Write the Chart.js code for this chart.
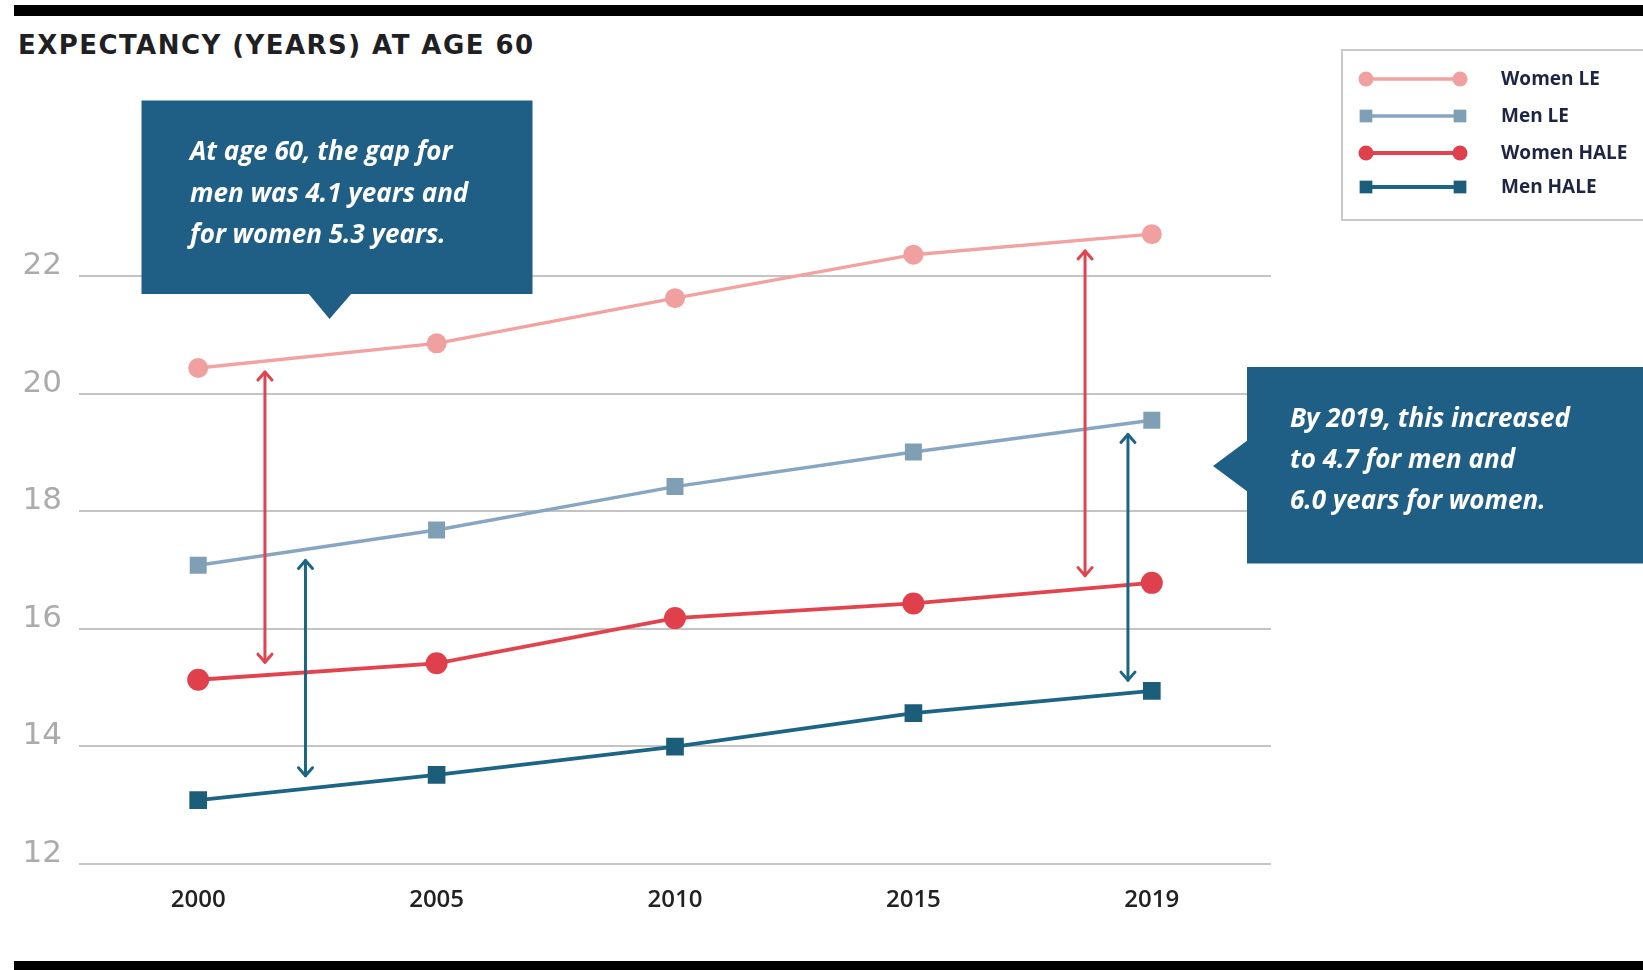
<!DOCTYPE html>
<html>
<head>
<meta charset="utf-8">
<script src="https://cdn.jsdelivr.net/npm/chart.js@4.4.0/dist/chart.umd.min.js"></script>
<style>
  html, body { margin: 0; padding: 0; background: #fff; }
  #wrap { position: relative; width: 1643px; height: 970px; overflow: hidden; }
  #box { position: absolute; left: 0; top: 0; width: 1643px; height: 970px; }
  .rule { position: absolute; left: 14px; right: 0; background: #000; }
  .rule.top { top: 5px; height: 11px; }
  .rule.bottom { top: 961px; height: 9px; }
  h1 {
    position: absolute; left: 18px; top: 30px; margin: 0;
    font: 700 26px "DejaVu Sans", sans-serif; line-height: 30px;
    letter-spacing: 1.45px; color: #1f1f24;
  }
</style>
</head>
<body>
<div id="wrap">
  <div class="rule top"></div>
  <h1>EXPECTANCY (YEARS) AT AGE 60</h1>
  <div id="box"><canvas id="chart"></canvas></div>
  <div class="rule bottom"></div>
</div>
<script>
const years = ['2000', '2005', '2010', '2015', '2019'];
const womenLE = [20.44, 20.86, 21.63, 22.37, 22.72];
const menLE = [17.08, 17.68, 18.42, 19.01, 19.55];
const womenHALE = [15.13, 15.41, 16.18, 16.43, 16.78];
const menHALE = [13.08, 13.51, 13.99, 14.56, 14.94];
const yTicks = [12, 14, 16, 18, 20, 22];

const seriesNames = ['Women LE', 'Men LE', 'Women HALE', 'Men HALE'];

const noteLeft = ['At age 60, the gap for', 'men was 4.1 years and', 'for women 5.3 years.'];
const noteRight = ['By 2019, this increased', 'to 4.7 for men and', '6.0 years for women.'];

const RED = '#e1434f';
const TEAL = '#1d6585';
const NOTE_BG = '#1f5f86';

// double-headed arrows between two series, placed at a fractional category index
const gapArrows = [
  { upper: 0, lower: 2, at: 0.28, color: RED },
  { upper: 1, lower: 3, at: 0.45, color: TEAL },
  { upper: 0, lower: 2, at: 3.72, color: RED },
  { upper: 1, lower: 3, at: 3.90, color: TEAL }
];

function valueAt(arr, idx) {
  const i = Math.min(Math.floor(idx), arr.length - 2);
  const f = idx - i;
  return arr[i] + (arr[i + 1] - arr[i]) * f;
}

function drawMarker(ctx, style, x, y, r, color) {
  ctx.fillStyle = color;
  ctx.beginPath();
  if (style === 'rect') {
    const s = r * Math.SQRT1_2;
    ctx.rect(x - s, y - s, 2 * s, 2 * s);
  } else {
    ctx.arc(x, y, r, 0, Math.PI * 2);
  }
  ctx.fill();
}

function drawHead(ctx, x, y, dir) {
  ctx.beginPath();
  ctx.moveTo(x - 7, y + dir * 8);
  ctx.lineTo(x, y);
  ctx.lineTo(x + 7, y + dir * 8);
  ctx.stroke();
}

const arrowPlugin = {
  id: 'gapArrows',
  afterDatasetsDraw(chart) {
    const { ctx, scales: { x, y } } = chart;
    const sets = chart.data.datasets;
    ctx.save();
    ctx.lineWidth = 3;
    ctx.lineCap = 'round';
    ctx.lineJoin = 'round';
    gapArrows.forEach(a => {
      const px = x.getPixelForValue(a.at);
      const top = y.getPixelForValue(valueAt(sets[a.upper].data, a.at)) + 11;
      const bot = y.getPixelForValue(valueAt(sets[a.lower].data, a.at)) - 13;
      ctx.strokeStyle = a.color;
      ctx.beginPath();
      ctx.moveTo(px, top);
      ctx.lineTo(px, bot);
      ctx.stroke();
      drawHead(ctx, px, top, 1);
      drawHead(ctx, px, bot, -1);
    });
    ctx.restore();
  }
};

function drawNote(ctx, lines, tx, ty, step) {
  ctx.fillStyle = '#fff';
  ctx.font = 'italic 700 26px "Open Sans"';
  ctx.textAlign = 'left';
  ctx.textBaseline = 'middle';
  lines.forEach((t, i) => ctx.fillText(t, tx, ty + i * step));
}

const notesPlugin = {
  id: 'notes',
  afterDraw(chart) {
    const ctx = chart.ctx;
    ctx.save();
    ctx.fillStyle = NOTE_BG;
    // left callout, pointer below
    ctx.fillRect(141.5, 100.5, 391, 193.5);
    ctx.beginPath();
    ctx.moveTo(308, 293);
    ctx.lineTo(352, 293);
    ctx.lineTo(329.5, 319);
    ctx.closePath();
    ctx.fill();
    drawNote(ctx, noteLeft, 190, 153, 41.5);
    // right callout, pointer to the left
    ctx.fillStyle = NOTE_BG;
    ctx.fillRect(1247, 367, 400, 196.5);
    ctx.beginPath();
    ctx.moveTo(1248, 440);
    ctx.lineTo(1213, 466);
    ctx.lineTo(1248, 492);
    ctx.closePath();
    ctx.fill();
    drawNote(ctx, noteRight, 1290, 419.5, 41);
    ctx.restore();
  }
};

const legendPlugin = {
  id: 'boxLegend',
  afterDraw(chart) {
    const ctx = chart.ctx;
    const rows = [79, 116, 153, 187];
    ctx.save();
    ctx.strokeStyle = '#c9c9c9';
    ctx.lineWidth = 2;
    ctx.strokeRect(1342, 50, 320, 170);
    chart.data.datasets.forEach((ds, i) => {
      const yy = rows[i];
      ctx.strokeStyle = ds.borderColor;
      ctx.lineWidth = ds.borderWidth;
      ctx.beginPath();
      ctx.moveTo(1364, yy);
      ctx.lineTo(1462, yy);
      ctx.stroke();
      const r = ds.pointStyle === 'rect' ? 9 : 7.5;
      drawMarker(ctx, ds.pointStyle, 1366, yy, r, ds.pointBackgroundColor);
      drawMarker(ctx, ds.pointStyle, 1460, yy, r, ds.pointBackgroundColor);
      ctx.fillStyle = '#1e2444';
      ctx.font = '700 19px "Open Sans"';
      ctx.textAlign = 'left';
      ctx.textBaseline = 'middle';
      ctx.fillText(ds.label, 1501, yy + 1);
    });
    ctx.restore();
  }
};

function series(label, data, line, point, style, r, w) {
  return {
    label, data,
    borderColor: line,
    backgroundColor: point,
    pointBackgroundColor: point,
    pointBorderColor: point,
    pointBorderWidth: 0,
    pointStyle: style,
    pointRadius: r,
    pointHoverRadius: r,
    borderWidth: w,
    tension: 0,
    fill: false
  };
}

new Chart(document.getElementById('chart'), {
  type: 'line',
  data: {
    labels: years,
    datasets: [
      series(seriesNames[0], womenLE, '#f2a3a1', '#f0a09f', 'circle', 10, 3.4),
      series(seriesNames[1], menLE, '#88a6c2', '#7f9fb5', 'rect', 12, 3.4),
      series(seriesNames[2], womenHALE, RED, '#e03f4c', 'circle', 11, 3.8),
      series(seriesNames[3], menHALE, TEAL, '#1c5d7a', 'rect', 12.5, 3.8)
    ]
  },
  options: {
    responsive: true,
    maintainAspectRatio: false,
    animation: false,
    layout: { padding: { top: 159, right: 372, bottom: 0, left: 0 } },
    plugins: {
      legend: { display: false },
      tooltip: { enabled: false }
    },
    scales: {
      x: {
        type: 'category',
        offset: true,
        grid: { display: false, drawTicks: false },
        border: { display: false },
        ticks: {
          padding: 22,
          color: '#222',
          font: { family: '"Open Sans"', size: 24, weight: '600' }
        },
        afterFit(s) { s.height = 106.5; }
      },
      y: {
        min: 12,
        max: 24,
        afterBuildTicks(s) { s.ticks = yTicks.map(v => ({ value: v })); },
        grid: { color: '#c4c4c4', lineWidth: 2, drawTicks: false },
        border: { display: false },
        ticks: {
          padding: 17,
          labelOffset: -10,
          color: '#ababab',
          font: { family: '"DejaVu Sans"', size: 31, weight: '400' }
        },
        afterFit(s) { s.width = 79; }
      }
    }
  },
  plugins: [arrowPlugin, notesPlugin, legendPlugin]
});
</script>
</body>
</html>
